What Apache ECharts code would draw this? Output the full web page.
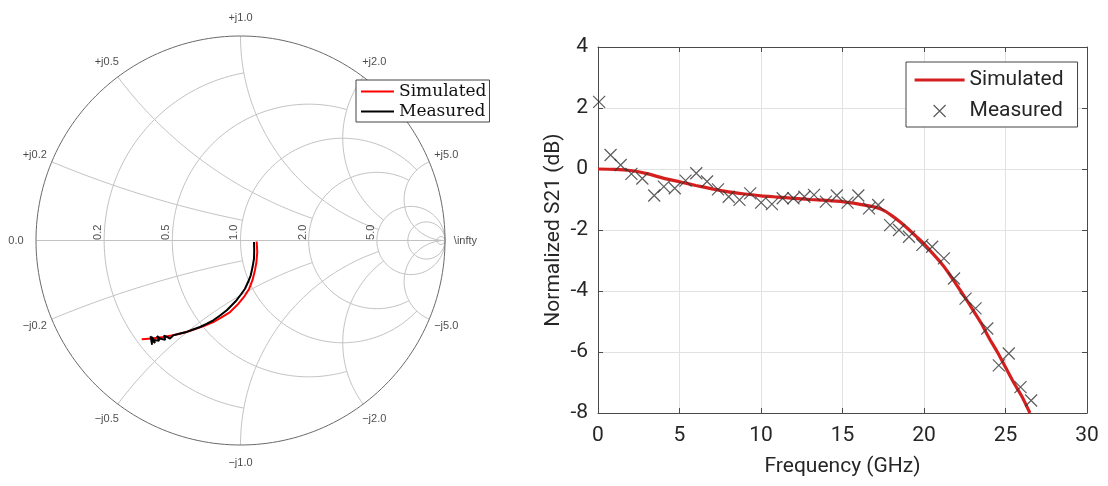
<!DOCTYPE html>
<html><head><meta charset="utf-8">
<script src="https://cdn.jsdelivr.net/npm/echarts@6/dist/echarts.min.js"></script>
<style>html,body{margin:0;padding:0;background:#fff}#c{width:1108px;height:486px}</style>
</head><body><div id="c"></div>
<script>
// ---------- Smith chart grid definition ----------
const resistanceValues = [0.2, 0.5, 1, 2, 5, 10, 50];
const resistanceStopAt = [1, 2, 5, 5, Infinity, Infinity, Infinity];   // |x| where each r-circle stops
const reactanceValues  = [0.2, 0.5, 1, 2, 5];
const reactanceStopAt  = [1, 2, 5, 5, Infinity];                        // r where each x-arc stops
const realTickValues = [0.2, 0.5, 1, 2, 5];
const realTickLabels = ['0.2', '0.5', '1.0', '2.0', '5.0'];
const realEndLabels  = ['0.0', '\\infty'];
const imagTickValues = [0.2, 0.5, 1, 2, 5];
const imagTickLabelsPos = ['+j0.2', '+j0.5', '+j1.0', '+j2.0', '+j5.0'];
const imagTickLabelsNeg = ['\u2212j0.2', '\u2212j0.5', '\u2212j1.0', '\u2212j2.0', '\u2212j5.0'];

// ---------- S11 (reflection coefficient, Re / Im) ----------
const s11SimRe = [0.079, 0.082, 0.078, 0.071, 0.059, 0.042, 0.017, -0.012, -0.051, -0.095, -0.133, -0.174, -0.214, -0.257, -0.296, -0.337, -0.378, -0.433, -0.483];
const s11SimIm = [-0.005, -0.056, -0.105, -0.144, -0.193, -0.237, -0.276, -0.311, -0.350, -0.377, -0.399, -0.416, -0.431, -0.445, -0.456, -0.465, -0.472, -0.479, -0.483];
const s11MeasRe = [0.066, 0.067, 0.066, 0.059, 0.050, 0.037, 0.022, 0.002, -0.019, -0.044, -0.067, -0.100, -0.133, -0.166, -0.198, -0.232, -0.263, -0.296, -0.329, -0.345, -0.355, -0.374, -0.368, -0.394, -0.408, -0.398, -0.423, -0.433, -0.418, -0.438, -0.447, -0.428, -0.440, -0.432];
const s11MeasIm = [-0.007, -0.046, -0.089, -0.130, -0.170, -0.203, -0.236, -0.264, -0.292, -0.318, -0.341, -0.367, -0.390, -0.408, -0.423, -0.435, -0.447, -0.455, -0.464, -0.480, -0.474, -0.465, -0.486, -0.479, -0.467, -0.490, -0.487, -0.472, -0.501, -0.482, -0.477, -0.491, -0.468, -0.510];

// ---------- S21 ----------
const freqSim = [0, 1, 2, 3, 4, 5, 6, 7, 8, 9, 10, 11, 12, 13, 14, 15, 16, 17, 17.5, 18, 18.5, 19, 19.5, 20, 20.5, 21, 21.5, 22, 22.5, 23, 23.5, 24, 24.5, 25, 25.5, 26, 26.5];
const s21Sim  = [0, -0.01, -0.05, -0.15, -0.30, -0.42, -0.54, -0.65, -0.75, -0.82, -0.88, -0.92, -0.96, -1.00, -1.03, -1.07, -1.15, -1.25, -1.35, -1.52, -1.72, -1.95, -2.20, -2.45, -2.75, -3.05, -3.40, -3.80, -4.20, -4.62, -5.05, -5.55, -6.00, -6.50, -7.00, -7.45, -8.00];
const freqMeas = [0.07, 0.77, 1.39, 2.05, 2.72, 3.45, 4.04, 4.71, 5.37, 6.03, 6.69, 7.36, 8.02, 8.68, 9.34, 10.01, 10.67, 11.33, 11.99, 12.66, 13.25, 13.98, 14.65, 15.31, 15.97, 16.63, 17.19, 17.92, 18.47, 19.08, 19.90, 20.50, 21.22, 21.84, 22.55, 23.16, 23.88, 24.59, 25.20, 25.92, 26.57];
const s21Meas  = [2.20, 0.46, 0.13, -0.16, -0.31, -0.87, -0.58, -0.63, -0.38, -0.14, -0.41, -0.67, -0.91, -1.01, -0.80, -1.10, -1.15, -0.96, -0.96, -0.91, -0.85, -1.07, -0.87, -1.10, -0.87, -1.29, -1.18, -1.84, -2.00, -2.22, -2.49, -2.55, -2.93, -3.59, -4.25, -4.57, -5.23, -6.44, -6.05, -7.15, -7.59];
const xTicks = {min: 0, max: 30, interval: 5};
const yTicks = {min: -8, max: 4, interval: 2};

// ---------- helpers (Smith chart geometry) ----------
function gamma(r, x) {
  const d = (r + 1) * (r + 1) + x * x;
  return [(r * r - 1 + x * x) / d, (2 * x) / d];
}
function normAngle(a) { return a < 0 ? a + 2 * Math.PI : a; }
function resistanceArc(r, xLim) {
  const c = r / (1 + r), R = 1 / (1 + r);
  let p0 = 0;
  if (isFinite(xLim)) { const g = gamma(r, xLim); p0 = Math.atan2(g[1], g[0] - c); }
  const pts = [], N = 240;
  for (let i = 0; i <= N; i++) {
    const p = p0 + (2 * Math.PI - 2 * p0) * i / N;
    pts.push([c + R * Math.cos(p), R * Math.sin(p)]);
  }
  return pts;
}
function reactanceArc(x, rLim, sign) {
  const cy = 1 / x, R = 1 / x;
  const g0 = gamma(0, x);
  const a0 = normAngle(Math.atan2(g0[1] - cy, g0[0] - 1));
  let a1 = 1.5 * Math.PI;
  if (isFinite(rLim)) { const g1 = gamma(rLim, x); a1 = normAngle(Math.atan2(g1[1] - cy, g1[0] - 1)); }
  const pts = [], N = 200;
  for (let i = 0; i <= N; i++) {
    const a = a0 + (a1 - a0) * i / N;
    pts.push([1 + R * Math.cos(a), sign * (cy + R * Math.sin(a))]);
  }
  return pts;
}
const zip = (a, b) => a.map((v, i) => [v, b[i]]);

const GRID_COLOR = '#c2c2c2';
const series = [];
function gridLine(data, color, width) {
  series.push({type: 'line', xAxisIndex: 0, yAxisIndex: 0, data, symbol: 'none', silent: true, clip: false,
    lineStyle: {color, width}, z: 1, animation: false});
}
gridLine([[-1, 0], [1, 0]], GRID_COLOR, 1);
resistanceValues.forEach((r, i) => gridLine(resistanceArc(r, resistanceStopAt[i]), GRID_COLOR, 1));
reactanceValues.forEach((x, i) => {
  gridLine(reactanceArc(x, reactanceStopAt[i], 1), GRID_COLOR, 1);
  gridLine(reactanceArc(x, reactanceStopAt[i], -1), GRID_COLOR, 1);
});
gridLine(resistanceArc(0, Infinity), '#6a6a6a', 1);

// labels
const outerLabels = [];
imagTickValues.forEach((x, i) => {
  const g = gamma(0, x);
  outerLabels.push({name: imagTickLabelsPos[i], value: [1.09 * g[0], 1.09 * g[1]]});
  outerLabels.push({name: imagTickLabelsNeg[i], value: [1.09 * g[0], -1.09 * g[1]]});
});
outerLabels.push({name: realEndLabels[0], value: [-1.098, 0]});
outerLabels.push({name: realEndLabels[1], value: [1.1, 0]});
const realLabels = realTickValues.map((r, i) => ({name: realTickLabels[i], value: [gamma(r, 0)[0] - 0.03, 0.04]}));
const labelStyle = {show: true, position: 'inside', formatter: '{b}', fontFamily: 'Liberation Sans', fontSize: 11, color: '#1a1a1a'};
series.push({type: 'scatter', xAxisIndex: 0, yAxisIndex: 0, data: outerLabels, symbolSize: 1, silent: true, clip: false,
  itemStyle: {color: 'rgba(0,0,0,0)'}, label: labelStyle, animation: false});
series.push({type: 'scatter', xAxisIndex: 0, yAxisIndex: 0, data: realLabels, symbolSize: 1, silent: true, clip: false,
  itemStyle: {color: 'rgba(0,0,0,0)'}, label: Object.assign({}, labelStyle, {rotate: 90}), animation: false});

// S11 curves
series.push({name: 'Simulated (S11)', type: 'line', xAxisIndex: 0, yAxisIndex: 0, data: zip(s11SimRe, s11SimIm),
  symbol: 'none', clip: false, lineStyle: {color: '#ff0000', width: 2}, itemStyle: {color: '#ff0000'}, z: 3, animation: false});
series.push({name: 'Measured (S11)', type: 'line', xAxisIndex: 0, yAxisIndex: 0, data: zip(s11MeasRe, s11MeasIm),
  symbol: 'none', clip: false, lineStyle: {color: '#000000', width: 2}, itemStyle: {color: '#000000'}, z: 4, animation: false});

// S21 curves
const X_PATH = 'path://M0,0L10,10M10,0L0,10';
series.push({name: 'Simulated', type: 'line', xAxisIndex: 1, yAxisIndex: 1, data: zip(freqSim, s21Sim), smooth: 0.2,
  symbol: 'none', lineStyle: {color: '#d41f1f', width: 3.2}, itemStyle: {color: '#d41f1f'}, z: 3, animation: false});
series.push({name: 'Measured', type: 'scatter', xAxisIndex: 1, yAxisIndex: 1, data: zip(freqMeas, s21Meas),
  symbol: X_PATH, symbolSize: 12, clip: false,
  itemStyle: {color: 'rgba(0,0,0,0)', borderColor: '#333', borderWidth: 1.2}, z: 4, animation: false});

const FONT = 'Roboto';
const TXT = '#262626';
const AX = '#4a4a4a';
const option = {
  animation: false,
  backgroundColor: '#fff',
  grid: [
    {left: 36, top: 36, width: 409, height: 409, containLabel: false, outerBoundsMode: 'none'},
    {left: 598, top: 47, width: 489, height: 366, containLabel: false, outerBoundsMode: 'none'}
  ],
  xAxis: [
    {gridIndex: 0, type: 'value', min: -1, max: 1, show: false},
    {gridIndex: 1, type: 'value', min: xTicks.min, max: xTicks.max, interval: xTicks.interval, position: 'bottom',
      axisLine: {show: true, onZero: false, lineStyle: {color: AX, width: 1}},
      axisTick: {show: true, inside: true, length: 5, lineStyle: {color: AX}},
      axisLabel: {fontFamily: FONT, fontSize: 21, color: TXT, margin: 12},
      splitLine: {show: true, lineStyle: {color: '#e2e2e2', width: 1}},
      name: 'Frequency (GHz)', nameLocation: 'middle', nameGap: 43,
      nameTextStyle: {fontFamily: FONT, fontSize: 21, color: TXT}},
    {gridIndex: 1, type: 'value', min: xTicks.min, max: xTicks.max, interval: xTicks.interval, position: 'top',
      axisLine: {show: true, onZero: false, lineStyle: {color: AX, width: 1}},
      axisTick: {show: true, inside: true, length: 5, lineStyle: {color: AX}},
      axisLabel: {show: false}, splitLine: {show: false}}
  ],
  yAxis: [
    {gridIndex: 0, type: 'value', min: -1, max: 1, show: false},
    {gridIndex: 1, type: 'value', min: yTicks.min, max: yTicks.max, interval: yTicks.interval, position: 'left',
      axisLine: {show: true, onZero: false, lineStyle: {color: AX, width: 1}},
      axisTick: {show: true, inside: true, length: 5, lineStyle: {color: AX}},
      axisLabel: {fontFamily: FONT, fontSize: 21, color: TXT, margin: 10},
      splitLine: {show: true, lineStyle: {color: '#e2e2e2', width: 1}},
      name: 'Normalized S21 (dB)', nameLocation: 'middle', nameGap: 34,
      nameTextStyle: {fontFamily: FONT, fontSize: 21, color: TXT}},
    {gridIndex: 1, type: 'value', min: yTicks.min, max: yTicks.max, interval: yTicks.interval, position: 'right',
      axisLine: {show: true, onZero: false, lineStyle: {color: AX, width: 1}},
      axisTick: {show: true, inside: true, length: 5, lineStyle: {color: AX}},
      axisLabel: {show: false}, splitLine: {show: false}}
  ],
  legend: [
    {left: 356, top: 80, orient: 'vertical', selectedMode: false,
      backgroundColor: '#fff', borderColor: '#444', borderWidth: 1, borderRadius: 0,
      padding: [3, 3, 2, 5], itemWidth: 33, itemHeight: 10, itemGap: 3, itemStyle: {borderWidth: 0},
      textStyle: {fontFamily: 'DejaVu Serif', fontSize: 17, lineHeight: 15, color: '#111'},
      formatter: (n) => n.replace(' (S11)', ''),
      data: [
        {name: 'Simulated (S11)', icon: 'path://M0,0M33,10M0,4L33,4L33,6L0,6Z', itemStyle: {color: '#ff0000', borderWidth: 0}},
        {name: 'Measured (S11)', icon: 'path://M0,0M33,10M0,4L33,4L33,6L0,6Z', itemStyle: {color: '#000000', borderWidth: 0}}
      ]},
    {left: 906, top: 62, orient: 'vertical', selectedMode: false,
      backgroundColor: '#fff', borderColor: '#444', borderWidth: 1, borderRadius: 0,
      padding: [6, 14, 4, 8], itemWidth: 50, itemHeight: 14, itemGap: 7,
      textStyle: {fontFamily: FONT, fontSize: 21, lineHeight: 24, color: TXT},
      data: [
        {name: 'Simulated', icon: 'path://M0,0M50,14M0,5.4L50,5.4L50,8.6L0,8.6Z', itemStyle: {color: '#d41f1f', borderWidth: 0}},
        {name: 'Measured', icon: 'path://M0,0M50,14M19,1L31,13M31,1L19,13', itemStyle: {color: 'rgba(0,0,0,0)', borderColor: '#333', borderWidth: 1.2}}
      ]}
  ],
  series
};
const chart = echarts.init(document.getElementById('c'), null, {renderer: 'canvas'});
chart.setOption(option);
</script>
</body></html>
